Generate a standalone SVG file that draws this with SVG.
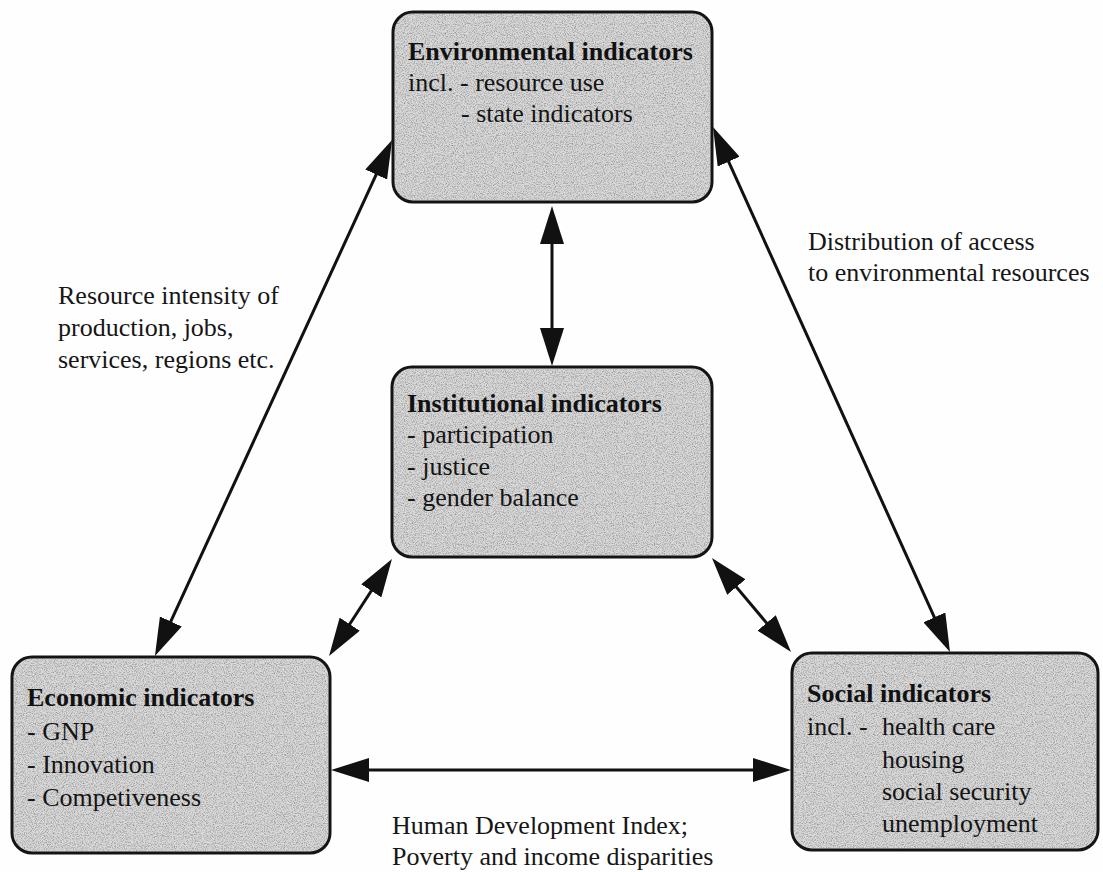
<svg xmlns="http://www.w3.org/2000/svg" width="1103" height="872" viewBox="0 0 1103 872">
  <style>
    .box { fill: #d9d9d9; stroke: #141414; stroke-width: 3; }
    .grain { fill: #000; stroke: none; }
    .title { font-family: "Liberation Serif", "Times New Roman", serif; font-size: 26px; font-weight: bold; fill: #111; }
    .item { font-family: "Liberation Serif", "Times New Roman", serif; font-size: 26px; fill: #141414; }
    .label { font-family: "Liberation Serif", "Times New Roman", serif; font-size: 26px; fill: #161616; }
    .link { stroke: #111; stroke-width: 3; fill: none; marker-start: url(#head); marker-end: url(#head); }
  </style>
  <defs>
    <!-- large solid arrowhead; tip sits 8px past the line end -->
    <marker id="head" markerUnits="userSpaceOnUse" markerWidth="38" markerHeight="24" refX="30" refY="12" orient="auto-start-reverse" viewBox="0 0 38 24">
      <path d="M0,0 L38,12 L0,24 z" fill="#111"/>
    </marker>
    <!-- speckled paper texture for the indicator boxes -->
    <filter id="speckle" x="0" y="0" width="1" height="1" color-interpolation-filters="sRGB">
      <feTurbulence type="fractalNoise" baseFrequency="0.9" numOctaves="2" seed="7" result="noise"/>
      <feColorMatrix in="noise" type="matrix" values="0 0 0 0 0.35  0 0 0 0 0.35  0 0 0 0 0.35  1.3 0 0 0 -0.55" result="dots"/>
      <feComposite in="dots" in2="SourceAlpha" operator="in"/>
    </filter>
  </defs>

  <rect x="0" y="0" width="1103" height="872" fill="#fefefe"/>

  <!-- connectors -->
  <g id="connectors">
    <line class="link" x1="552" y1="214" x2="552" y2="358"/>
    <line class="link" x1="388.7" y1="147.3" x2="158.3" y2="648.7"/>
    <line class="link" x1="716.3" y1="134.3" x2="946.7" y2="644.7"/>
    <line class="link" x1="387.6" y1="565.7" x2="333.4" y2="649.3"/>
    <line class="link" x1="717.1" y1="564.1" x2="785.9" y2="645.9"/>
    <line class="link" x1="339" y1="770" x2="783" y2="770"/>
  </g>

  <!-- connector labels -->
  <g id="edge-labels">
    <text class="label" x="58" y="304">Resource intensity of</text>
    <text class="label" x="58" y="336">production, jobs,</text>
    <text class="label" x="58" y="368">services, regions etc.</text>
    <text class="label" x="808" y="250">Distribution of access</text>
    <text class="label" x="808" y="281">to environmental resources</text>
    <text class="label" x="392" y="834">Human Development Index;</text>
    <text class="label" x="392" y="865">Poverty and income disparities</text>
  </g>

  <g id="node-environmental">
    <rect class="box" x="393" y="12" width="319" height="190" rx="20"/>
    <rect class="grain" x="394.5" y="13.5" width="316" height="187" rx="19" filter="url(#speckle)"/>
    <text class="title" x="408" y="60">Environmental indicators</text>
    <text class="item" x="408" y="91">incl. - resource use</text>
    <text class="item" x="461" y="122">- state indicators</text>
  </g>

  <g id="node-institutional">
    <rect class="box" x="392" y="367" width="320" height="190" rx="20"/>
    <rect class="grain" x="393.5" y="368.5" width="317" height="187" rx="19" filter="url(#speckle)"/>
    <text class="title" x="407" y="412">Institutional indicators</text>
    <text class="item" x="407" y="443">- participation</text>
    <text class="item" x="407" y="475">- justice</text>
    <text class="item" x="407" y="506">- gender balance</text>
  </g>

  <g id="node-economic">
    <rect class="box" x="12" y="657" width="318" height="196" rx="20"/>
    <rect class="grain" x="13.5" y="658.5" width="315" height="193" rx="19" filter="url(#speckle)"/>
    <text class="title" x="27" y="706">Economic indicators</text>
    <text class="item" x="27" y="740">- GNP</text>
    <text class="item" x="27" y="773">- Innovation</text>
    <text class="item" x="27" y="806">- Competiveness</text>
  </g>

  <g id="node-social">
    <rect class="box" x="792" y="653" width="306" height="197" rx="20"/>
    <rect class="grain" x="793.5" y="654.5" width="303" height="194" rx="19" filter="url(#speckle)"/>
    <text class="title" x="807" y="702">Social indicators</text>
    <text class="item" x="807" y="735">incl. -</text>
    <text class="item" x="882" y="735">health care</text>
    <text class="item" x="882" y="768">housing</text>
    <text class="item" x="882" y="800">social security</text>
    <text class="item" x="882" y="832">unemployment</text>
  </g>
</svg>
